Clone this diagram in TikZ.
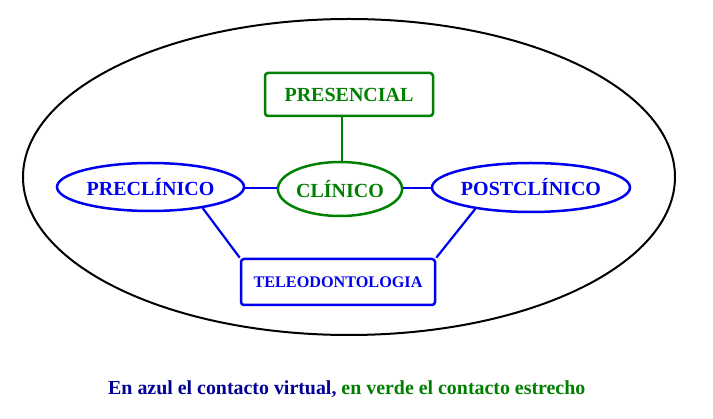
\documentclass[tikz,border=0pt]{standalone}
\usepackage{fontspec}
\setmainfont{Liberation Serif}
\usetikzlibrary{shapes.geometric}
\definecolor{cblue}{RGB}{0,0,240}
\definecolor{cgreen}{RGB}{0,128,0}
\definecolor{cnavy}{RGB}{0,0,150}
\tikzset{
  ovalnode/.style={ellipse, draw, line width=2.5pt, inner sep=0pt, font=\fontsize{20}{21}\selectfont\bfseries},
  boxnode/.style={rectangle, draw, line width=2.5pt, rounded corners=3pt, inner sep=0pt},
  bluelink/.style={draw=cblue, line width=2.2pt},
  greenlink/.style={draw=cgreen, line width=2.2pt},
}
\begin{document}
\begin{tikzpicture}[x=1pt,y=-1pt]
\useasboundingbox (0,0) rectangle (713,419);
\node[draw=black, line width=2pt, ellipse, minimum width=652pt, minimum height=316pt, inner sep=0pt] (outer) at (349,177) {};
\node[boxnode, draw=cgreen, text=cgreen, minimum width=168pt, minimum height=43pt, font=\fontsize{20}{21}\selectfont\bfseries] (pres) at (349,94.5) {PRESENCIAL};
\node[ovalnode, draw=cgreen, text=cgreen, minimum width=123pt, minimum height=54pt] (cli) at (340,189) {CLÍNICO};
\node[ovalnode, draw=cblue, text=cblue, minimum width=187pt, minimum height=48pt] (pre) at (150.5,187) {PRECLÍNICO};
\node[ovalnode, draw=cblue, text=cblue, minimum width=192pt, minimum height=49pt] (post) at (531,187.5) {POSTCLÍNICO};
\node[boxnode, draw=cblue, text=cblue, minimum width=194pt, minimum height=46pt, font=\fontsize{16.2}{17}\selectfont\bfseries] (tele) at (338,282) {TELEODONTOLOGIA};
\draw[greenlink] (pres.south -| 342,0) -- (cli.north -| 342,0);
\draw[bluelink] (pre.east |- 0,188) -- (cli.west |- 0,188);
\draw[bluelink] (cli.east |- 0,188) -- (post.west |- 0,188);
\draw[bluelink] (pre.-22) -- (tele.north west);
\draw[bluelink] (post.-159) -- (tele.north east);
\node[font=\fontsize{19.9}{20}\selectfont\bfseries, inner sep=0pt, anchor=base west] (legend) at (108,395) {\textcolor{cnavy}{En azul el contacto virtual,} \textcolor{cgreen}{en verde el contacto estrecho}};
\end{tikzpicture}
\end{document}
